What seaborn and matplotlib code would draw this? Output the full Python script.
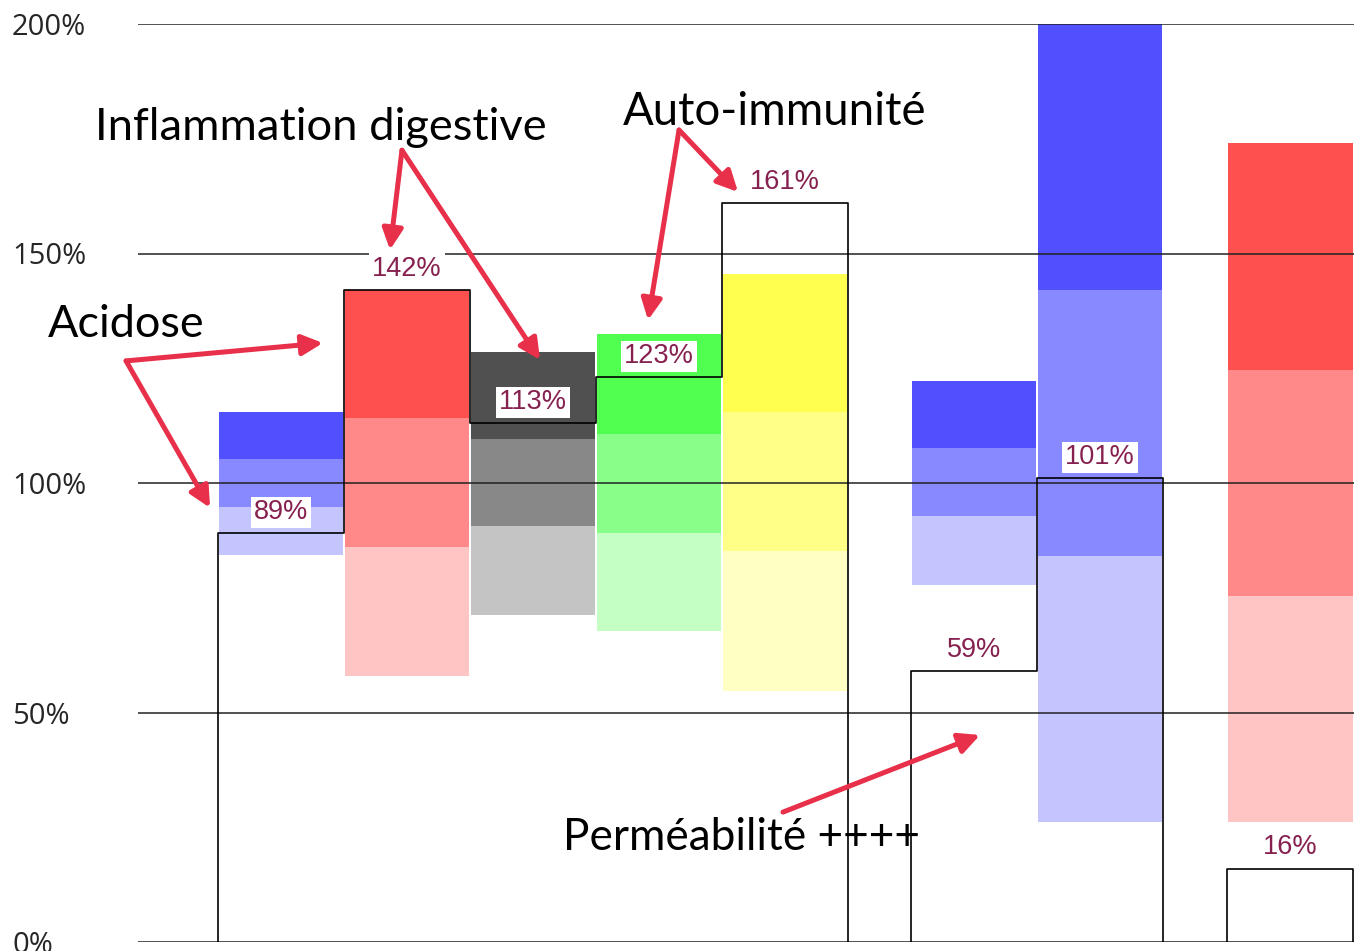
import matplotlib
matplotlib.use("Agg")
import matplotlib.pyplot as plt
import pandas as pd
import seaborn as sns

# ---------------- data ----------------
columns = ["c1", "c2", "c3", "c4", "c5", "c6", "c7", "c8"]
totals = [89, 142, 113, 123, 161, 59, 101, 16]
band_low = [84.3, 58.0, 71.2, 67.8, 54.7, 77.7, 26.1, 26.1]
band_q1 = [94.8, 86.1, 90.6, 89.1, 85.2, 92.9, 84.0, 75.4]
band_q2 = [105.2, 114.1, 109.5, 110.7, 115.4, 107.7, 142.0, 124.7]
band_high = [115.5, 142.0, 128.6, 132.4, 145.5, 122.3, 200.0, 174.0]
families = ["blue", "red", "gray", "green", "yellow", "blue", "blue", "red"]
ytick_values = [0, 50, 100, 150, 200]
ytick_labels = ["0%", "50%", "100%", "150%", "200%"]

# ---------------- layout / style ----------------
positions = [0.5, 1.5, 2.5, 3.5, 4.5, 6.0, 7.0, 8.51]
shades = {
    "blue": ["#c4c4ff", "#8888ff", "#5050ff"],
    "red": ["#ffc4c4", "#ff8888", "#ff5050"],
    "gray": ["#c4c4c4", "#888888", "#505050"],
    "green": ["#c4ffc4", "#88ff88", "#50ff50"],
    "yellow": ["#ffffc4", "#ffff88", "#ffff50"],
}
label_color = "#86204f"
arrow_color = "#e8304a"

sns.set_theme(style="white")
plt.rcParams["font.family"] = ["Liberation Sans", "DejaVu Sans"]

W, H = 1354, 951
fig = plt.figure(figsize=(W / 100, H / 100), dpi=100)
ax = fig.add_axes([138 / W, 9 / H, (W - 138) / W, 918 / H])

# stacked floating bands
for i, pos in enumerate(positions):
    levels = [band_low[i], band_q1[i], band_q2[i], band_high[i]]
    for k in range(3):
        sns.barplot(x=[pos], y=[levels[k + 1] - levels[k]], bottom=levels[k],
                    native_scale=True, width=0.99, color=shades[families[i]][k],
                    saturation=1, linewidth=0, errorbar=None, ax=ax, zorder=1)

# step outline of totals (contiguous columns share edges)
rows = []
group = 0
for i, (pos, v) in enumerate(zip(positions, totals)):
    left, right = pos - 0.5, pos + 0.5
    new_group = i == 0 or abs(left - (positions[i - 1] + 0.5)) > 1e-6
    if new_group:
        if i > 0:
            rows.append((group, positions[i - 1] + 0.5, 0))
            group += 1
        rows.append((group, left, 0))
    rows.append((group, left, v))
    rows.append((group, right, v))
rows.append((group, positions[-1] + 0.5, 0))
outline = pd.DataFrame(rows, columns=["grp", "x", "y"])
sns.lineplot(data=outline, x="x", y="y", units="grp", estimator=None, sort=False,
             color="black", linewidth=1.2, ax=ax, zorder=3, legend=False)

for pos, v in zip(positions, totals):
    ax.text(pos, v + 4.6, f"{v}%", ha="center", va="center",
            fontsize=19.5, color=label_color, zorder=4,
            bbox=dict(boxstyle="square,pad=0.1", fc="white", ec="none"))

ax.set_xlim(-0.635, 9.016)
ax.set_ylim(0, 200)
ax.set_xticks([])
ax.set_yticks(ytick_values)
ax.set_yticklabels(ytick_labels, fontsize=21, family=["Open Sans", "DejaVu Sans"])
for t in ax.get_yticklabels():
    t.set_horizontalalignment("left")
ax.tick_params(axis="y", length=0, pad=90.7)
ax.yaxis.grid(True, color="#222222", linewidth=1.1)
ax.set_axisbelow(False)
ax.set_xlabel("")
ax.set_ylabel("")
for s in ax.spines.values():
    s.set_visible(False)

# ---------------- annotations ----------------
ann_font = ["Lato", "DejaVu Sans"]
notes = [
    ("Inflammation digestive", -0.976, 174.7, 32.6),
    ("Auto-immunité", 3.214, 178.0, 32.8),
    ("Acidose", -1.349, 131.8, 32.4),
    ("Perméabilité ++++", 2.738, 20.0, 31.8),
]
for txt, x, y, fs in notes:
    ax.text(x, y, txt, ha="left", va="baseline", fontsize=fs, family=ann_font,
            color="black", zorder=6, clip_on=False)

arrows = [
    ((-0.730, 126.6), (0.833, 130.5)),
    ((-0.730, 126.6), (-0.063, 94.6)),
    ((1.460, 172.5), (1.365, 150.8)),
    ((1.460, 172.5), (2.556, 126.8)),
    ((3.659, 176.9), (3.413, 135.5)),
    ((3.659, 176.9), (4.127, 163.4)),
    ((4.484, 28.3), (6.048, 45.1)),
]
for start, tip in arrows:
    ax.annotate("", xy=tip, xytext=start, zorder=7, annotation_clip=False,
                arrowprops=dict(arrowstyle="-|>,head_length=1.25,head_width=0.62",
                                mutation_scale=10, lw=3.6, color=arrow_color,
                                shrinkA=0, shrinkB=0))

fig.savefig("out.png", dpi=100)
